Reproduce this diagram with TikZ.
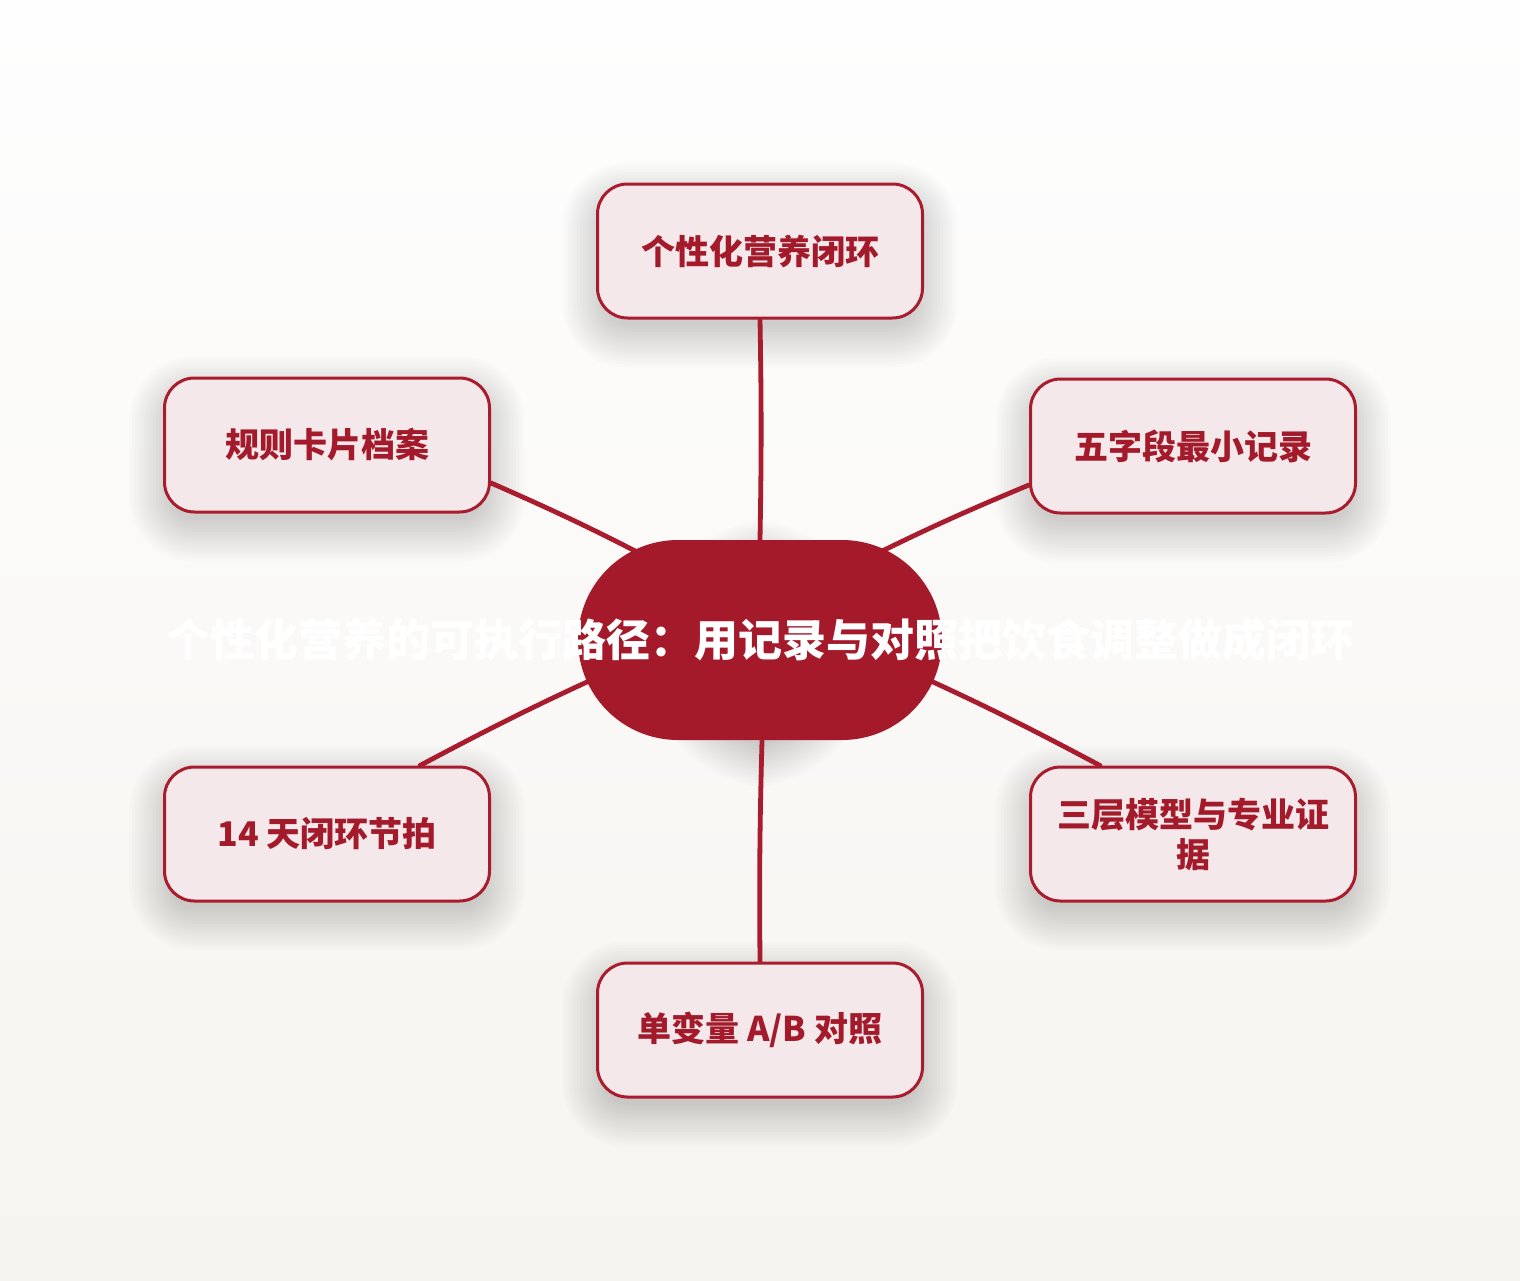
\documentclass[tikz,border=0pt]{standalone}
\usepackage{fontspec}
\setmainfont{Noto Sans CJK SC}
\usetikzlibrary{shapes.misc,calc}
\definecolor{boxfill}{HTML}{F5E8EB}
\definecolor{boxline}{HTML}{A81C2E}
\definecolor{boxtext}{HTML}{A31A2B}
\definecolor{pillred}{HTML}{A51A2B}
\definecolor{bgtop}{HTML}{FEFEFE}
\definecolor{bgbot}{HTML}{F6F4F0}
\pgfdeclarelayer{paper}
\pgfdeclarelayer{shade}
\pgfdeclarelayer{wires}
\pgfsetlayers{paper,shade,wires,main}
% soft shadow under node #1 whose corner radius is #2 (pt)
\newcommand\softshadow[2]{%
  \foreach \k in {0,...,14}{%
    \pgfmathsetmacro\ea{-(3*\k-8)}%
    \pgfmathsetmacro\eb{3*\k-8}%
    \pgfmathsetmacro\ya{14-(3*\k-8)}%
    \pgfmathsetmacro\yb{14+3*\k-8}%
    \pgfmathsetmacro\rr{max(#2+0.5*(3*\k-8),2)}%
    \fill[black, opacity=0.012, rounded corners=\rr pt]
      ([shift={(\ea,\ya)}]#1.north west) rectangle ([shift={(\eb,\yb)}]#1.south east);
  }%
}
\begin{document}
\begin{tikzpicture}[x=0.5pt,y=-0.5pt,
  leaf/.style={draw=boxline, line width=1.5pt, fill=boxfill, rounded corners=15pt,
    minimum width=162.5pt, minimum height=67pt, text=boxtext, align=center,
    font=\bfseries\fontsize{17}{20}\selectfont, inner sep=0pt},
  pill/.style={rounded rectangle, fill=pillred, minimum width=182pt, minimum height=100pt,
    inner sep=0pt, text=white, font=\bfseries\fontsize{22}{26}\selectfont},
  link/.style={draw=boxline, line width=2.4pt, line cap=round}]
\begin{pgfonlayer}{paper}
  \fill[top color=bgtop, bottom color=bgbot] (0,0) rectangle (1520,1280);
\end{pgfonlayer}
\useasboundingbox (0,0) rectangle (1520,1280);

\node[pill] (c) at (760,640) {\makebox[0pt]{\raisebox{-2pt}{个性化营养的可执行路径：用记录与对照把饮食调整做成闭环}}};

\node[leaf] (top) at (760,251) {\raisebox{-1pt}{个性化营养闭环}};
\node[leaf] (lt) at (327,445) {\raisebox{-1pt}{规则卡片档案}};
\node[leaf] (rt) at (1193,446) {\raisebox{-1pt}{五字段最小记录}};
\node[leaf] (lb) at (327,834) {\raisebox{-1pt}{14 天闭环节拍}};
\node[leaf] (rb) at (1193,834) {三层模型与专业证\\据};
\node[leaf] (bot) at (760,1030) {\raisebox{-1pt}{单变量 A/B 对照}};

\begin{pgfonlayer}{shade}
  \softshadow{c}{50}
  \softshadow{top}{15}
  \softshadow{lt}{15}
  \softshadow{rt}{15}
  \softshadow{lb}{15}
  \softshadow{rb}{15}
  \softshadow{bot}{15}
\end{pgfonlayer}

\begin{pgfonlayer}{wires}
  \draw[link] (top.south) to[bend left=1] (c.north);
  \draw[link] ($(lt.east)+(0,38)$) to[bend left=2] ($(c)+(-94,-73)$);
  \draw[link] ($(rt.west)+(0,39)$) to[bend right=2] ($(c)+(92,-74)$);
  \draw[link] ($(lb.north)+(93,0)$) to[bend left=2] ($(c)+(-120,18)$);
  \draw[link] ($(rb.north)+(-93,0)$) to[bend right=2] ($(c)+(120,18)$);
  \draw[link] (c.south) ++(2,0) to[bend right=1] (bot.north);
\end{pgfonlayer}
\end{tikzpicture}
\end{document}
